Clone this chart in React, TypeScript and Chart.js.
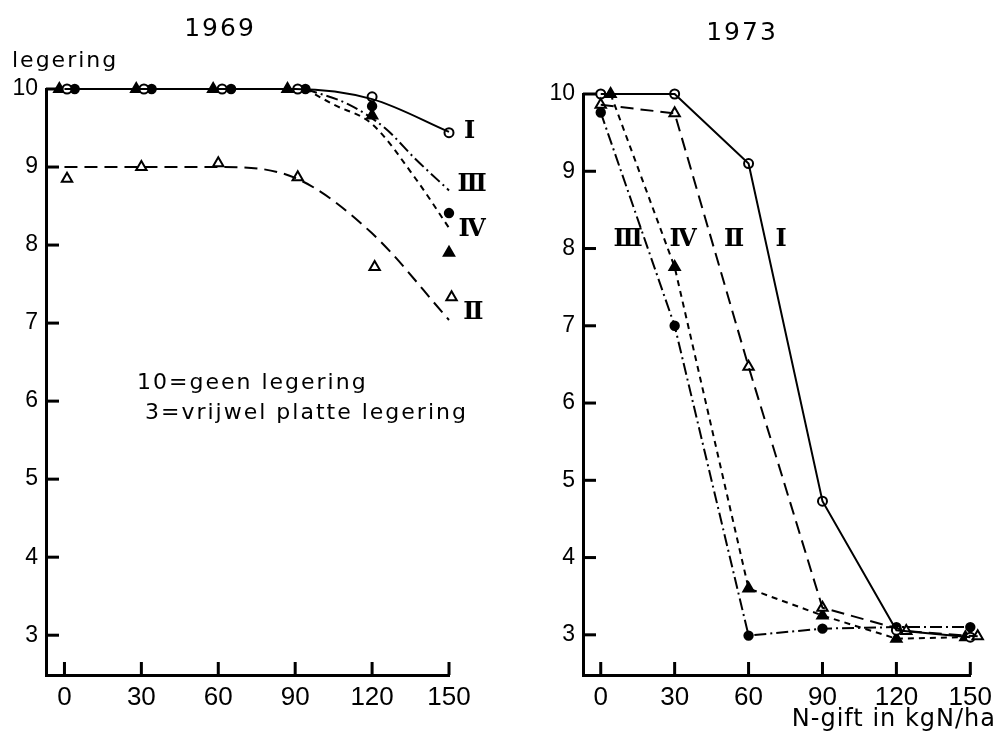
import React, { useEffect, useRef } from "react";
import { Chart, registerables } from "chart.js";

Chart.register(...registerables);

type Pt = [number, number];

// N-gift (kg N/ha) tick positions and legering score ticks
const X_TICKS = [0, 30, 60, 90, 120, 150];
const Y_TICKS = [3, 4, 5, 6, 7, 8, 9, 10];

// ---- 1969: observed scores per treatment ----
const OBS_1969_I: Pt[] = [[1, 10], [31, 10], [61.5, 10], [91, 10], [120, 9.9], [150, 9.44]];
const OBS_1969_II: Pt[] = [[1, 8.85], [30, 9.0], [60, 9.05], [91, 8.87], [121, 7.72], [151, 7.33]];
const OBS_1969_III: Pt[] = [[4, 10], [34, 10], [65, 10], [94, 10], [120, 9.78], [150, 8.41]];
const OBS_1969_IV: Pt[] = [[-2, 10], [28, 10], [58, 10], [87, 10], [120, 9.66], [150, 7.9]];

// ---- 1969: fitted response curves ----
const FIT_1969_I: Pt[] = [[0, 10], [30, 10], [60, 10], [90, 10], [120, 9.87], [150, 9.45]];
const FIT_1969_II: Pt[] = [[0, 9], [30, 9], [60, 9], [90, 8.86], [120, 8.15], [150, 7.04]];
const FIT_1969_III: Pt[] = [[94, 10], [111, 9.8], [125, 9.5], [137, 9.1], [150, 8.7]];
const FIT_1969_IV: Pt[] = [[94, 10], [105, 9.8], [120, 9.55], [137, 8.85], [150, 8.22]];

// ---- 1973: observed scores per treatment ----
const OBS_1973_I: Pt[] = [[0, 10], [30, 10], [60, 9.1], [90, 4.73], [120, 3.06], [150, 2.97]];
const OBS_1973_II: Pt[] = [[0, 9.86], [30, 9.75], [60, 6.47], [90, 3.35], [124, 3.05], [153, 2.98]];
const OBS_1973_III: Pt[] = [[0, 9.76], [30, 7.0], [60, 2.99], [90, 3.08], [120, 3.1], [150, 3.1]];
const OBS_1973_IV: Pt[] = [[4, 10], [30, 7.76], [60, 3.6], [90, 3.25], [120, 2.95], [148, 2.97]];

const NUM_FONT = "Liberation Sans";
const TEXT_FONT = "DejaVu Sans";
const ROMAN_FONT = "DejaVu Serif";

// line styles per treatment
const DASH_I: number[] = [];
const DASH_II = [13, 7];
const DASH_III = [12, 4, 2, 4];
const DASH_IV = [6, 5];

type Label = { text: string; x: number; y: number };
type TextItem = { text: string; px: number; py: number; font: string; spacing: number; align: CanvasTextAlign };

type PanelSpec = {
  xMin: number;
  xMax: number;
  yMin: number;
  yMax: number;
  axisLeft: number;
  padTop: number;
  padRight: number;
  romans: Label[];
  texts: TextItem[];
};

const toXY = (pts: Pt[]) => pts.map(([x, y]) => ({ x, y }));

function curve(pts: Pt[], dash: number[], smooth: boolean) {
  return {
    type: "line" as const,
    data: toXY(pts),
    borderColor: "#000",
    borderWidth: 2,
    borderDash: dash,
    pointRadius: 0,
    fill: false,
    tension: smooth ? 0.4 : 0,
    cubicInterpolationMode: smooth ? ("monotone" as const) : ("default" as const),
    clip: false as const,
  };
}

function markers(pts: Pt[], style: "circle" | "triangle", filled: boolean) {
  return {
    type: "scatter" as const,
    data: toXY(pts),
    showLine: false,
    pointStyle: style,
    pointRadius: style === "triangle" ? 6 : filled ? 4.2 : 4.5,
    pointBorderWidth: 2,
    pointBorderColor: "#000",
    pointBackgroundColor: filled ? "#000" : "#fff",
    clip: false as const,
  };
}

// inward tick marks, treatment numerals, titles and notes
function panelPlugin(spec: PanelSpec) {
  return {
    id: "panelDecor",
    afterDraw(chart: any) {
      const ctx: CanvasRenderingContext2D = chart.ctx;
      const xs = chart.scales.x;
      const ys = chart.scales.y;
      const bottom = ys.getPixelForValue(spec.yMin);
      const left = xs.getPixelForValue(spec.xMin);
      ctx.save();
      ctx.fillStyle = "#000";
      X_TICKS.forEach((v) => {
        const px = xs.getPixelForValue(v);
        ctx.fillRect(px - 1.5, bottom - 13, 3, 13);
      });
      Y_TICKS.forEach((v) => {
        const py = ys.getPixelForValue(v);
        ctx.fillRect(left, py - 1.5, 13, 3);
      });
      ctx.textBaseline = "middle";
      ctx.font = `bold 24px "${ROMAN_FONT}"`;
      spec.romans.forEach((r) => {
        ctx.textAlign = "center";
        ctx.fillText(r.text, xs.getPixelForValue(r.x), ys.getPixelForValue(r.y));
      });
      spec.texts.forEach((t) => {
        ctx.font = t.font;
        (ctx as any).letterSpacing = `${t.spacing}px`;
        ctx.textAlign = t.align;
        ctx.fillText(t.text, t.px, t.py);
      });
      ctx.restore();
    },
  };
}

function makeConfig(datasets: any[], spec: PanelSpec): any {
  return {
    type: "scatter",
    data: { datasets },
    options: {
      animation: false,
      responsive: false,
      events: [],
      layout: { padding: { left: 0, top: spec.padTop, right: spec.padRight, bottom: 0 } },
      plugins: { legend: { display: false }, tooltip: { enabled: false }, title: { display: false } },
      scales: {
        x: {
          type: "linear",
          min: spec.xMin,
          max: spec.xMax,
          afterBuildTicks: (s: any) => {
            s.ticks = X_TICKS.map((v) => ({ value: v }));
          },
          afterFit: (s: any) => {
            s.height = 61;
          },
          grid: { display: false, drawTicks: false },
          border: { display: true, color: "#000", width: 3 },
          ticks: {
            color: "#000",
            font: { family: NUM_FONT, size: 26 },
            padding: 7,
            autoSkip: false,
            maxRotation: 0,
            callback: (v: any) => String(v),
          },
        },
        y: {
          type: "linear",
          min: spec.yMin,
          max: spec.yMax,
          afterBuildTicks: (s: any) => {
            s.ticks = Y_TICKS.map((v) => ({ value: v }));
          },
          afterFit: (s: any) => {
            s.width = spec.axisLeft;
          },
          grid: { display: false, drawTicks: false },
          border: { display: true, color: "#000", width: 3 },
          ticks: {
            color: "#000",
            font: { family: NUM_FONT, size: 23 },
            padding: 8,
            autoSkip: false,
            callback: (v: any) => String(v),
          },
        },
      },
    },
    plugins: [panelPlugin(spec)],
  };
}

const SPEC_1969: PanelSpec = {
  xMin: -7.2,
  xMax: 150,
  yMin: 2.49,
  yMax: 10,
  axisLeft: 46,
  padTop: 89,
  padRight: 51,
  romans: [
    { text: "Ⅰ", x: 158, y: 9.45 },
    { text: "Ⅲ", x: 159, y: 8.77 },
    { text: "Ⅳ", x: 159, y: 8.19 },
    { text: "Ⅱ", x: 159.5, y: 7.13 },
  ],
  texts: [
    { text: "1969", px: 220, py: 29, font: `25px "${TEXT_FONT}"`, spacing: 2, align: "center" },
    { text: "legering", px: 12, py: 61, font: `22px "${TEXT_FONT}"`, spacing: 2, align: "left" },
    { text: "10=geen legering", px: 137, py: 383, font: `22px "${TEXT_FONT}"`, spacing: 2, align: "left" },
    { text: "3=vrijwel platte legering", px: 145, py: 413, font: `22px "${TEXT_FONT}"`, spacing: 2, align: "left" },
  ],
};

const SPEC_1973: PanelSpec = {
  xMin: -7.2,
  xMax: 150,
  yMin: 2.48,
  yMax: 10,
  axisLeft: 83,
  padTop: 94,
  padRight: 21,
  romans: [
    { text: "Ⅲ", x: 11.1, y: 8.11 },
    { text: "Ⅳ", x: 33.4, y: 8.11 },
    { text: "Ⅱ", x: 54.1, y: 8.11 },
    { text: "Ⅰ", x: 73.2, y: 8.11 },
  ],
  texts: [
    { text: "1973", px: 242, py: 33, font: `25px "${TEXT_FONT}"`, spacing: 2, align: "center" },
    { text: "N-gift in kgN/ha", px: 496, py: 720, font: `24px "${TEXT_FONT}"`, spacing: 1, align: "right" },
  ],
};

const DATA_1969 = [
  curve(FIT_1969_I, DASH_I, true),
  curve(FIT_1969_II, DASH_II, true),
  curve(FIT_1969_III, DASH_III, true),
  curve(FIT_1969_IV, DASH_IV, true),
  markers(OBS_1969_II, "triangle", false),
  markers(OBS_1969_I, "circle", false),
  markers(OBS_1969_III, "circle", true),
  markers(OBS_1969_IV, "triangle", true),
];

const DATA_1973 = [
  curve(OBS_1973_I, DASH_I, false),
  curve(OBS_1973_II, DASH_II, false),
  curve(OBS_1973_III, DASH_III, false),
  curve(OBS_1973_IV, DASH_IV, false),
  markers(OBS_1973_II, "triangle", false),
  markers(OBS_1973_I, "circle", false),
  markers(OBS_1973_III, "circle", true),
  markers(OBS_1973_IV, "triangle", true),
];

function Panel({ left, width, datasets, spec }: { left: number; width: number; datasets: any[]; spec: PanelSpec }) {
  const ref = useRef<HTMLCanvasElement | null>(null);
  useEffect(() => {
    if (!ref.current) return;
    const chart = new Chart(ref.current, makeConfig(datasets, spec));
    return () => chart.destroy();
  }, []);
  return (
    <canvas
      ref={ref}
      width={width}
      height={736}
      style={{ position: "absolute", left, top: 0, width, height: 736 }}
    />
  );
}

export default function App() {
  return (
    <div style={{ position: "fixed", left: 0, top: 0, width: 999, height: 736, background: "#fff" }}>
      <Panel left={0} width={500} datasets={DATA_1969} spec={SPEC_1969} />
      <Panel left={500} width={499} datasets={DATA_1973} spec={SPEC_1973} />
    </div>
  );
}
